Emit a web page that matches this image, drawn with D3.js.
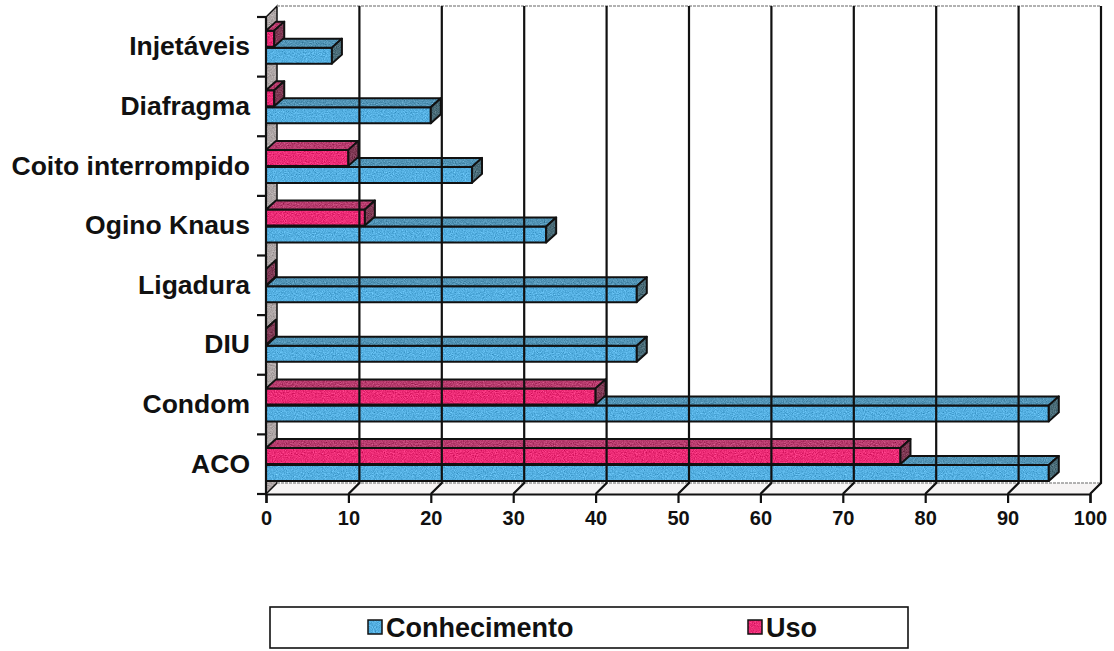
<!DOCTYPE html>
<html>
<head>
<meta charset="utf-8">
<script src="https://cdn.jsdelivr.net/npm/d3@7"></script>
<style>
  body { margin: 0; background: #fff; }
  text { font-family: Arial, "Liberation Sans", sans-serif; font-weight: bold; fill: #111; }
</style>
</head>
<body>
<svg id="chart" width="1114" height="651"></svg>
<script>
// categories top to bottom
var categories = ["Injetáveis", "Diafragma", "Coito interrompido", "Ogino Knaus", "Ligadura", "DIU", "Condom", "ACO"];
var conhecimento = [8, 20, 25, 34, 45, 45, 95, 95];
var uso = [1, 1, 10, 12, 0, 0, 40, 77];
var xTicks = [0, 10, 20, 30, 40, 50, 60, 70, 80, 90, 100];
var seriesNames = ["Conhecimento", "Uso"];

var svg = d3.select("#chart");
var DX = 11, DY = -11;     // wall depth
var BX = 10, BY = -9;      // bar depth

var x = d3.scaleLinear().domain([0, 100]).range([266, 1090]);
var y = d3.scaleBand().domain(categories).range([17, 494]).paddingInner(0).paddingOuter(0);
var yBottom = 494, yTop = 17;

// speckle texture filter
var defs = svg.append("defs");
var f = defs.append("filter").attr("id", "speckle").attr("x", 0).attr("y", 0).attr("width", "100%").attr("height", "100%")
  .attr("color-interpolation-filters", "sRGB");
f.append("feTurbulence").attr("type", "fractalNoise").attr("baseFrequency", 0.9).attr("numOctaves", 2).attr("seed", 4).attr("result", "noise");
f.append("feColorMatrix").attr("in", "noise").attr("type", "matrix")
  .attr("values", "0.33 0.33 0.33 0 0  0.33 0.33 0.33 0 0  0.33 0.33 0.33 0 0  0 0 0 0 1").attr("result", "gray");
f.append("feComposite").attr("in", "SourceGraphic").attr("in2", "gray").attr("operator", "arithmetic")
  .attr("k1", 0).attr("k2", 1).attr("k3", 0.6).attr("k4", -0.3).attr("result", "mix");
f.append("feComposite").attr("in", "mix").attr("in2", "SourceGraphic").attr("operator", "in");

var colors = {
  blue: { front: "#55b0e2", top: "#5294b6", side: "#4a6c78" },
  pink: { front: "#ec2c76", top: "#b83c6e", side: "#803a55" }
};

function poly(pts) { return "M" + pts.map(function(p) { return p[0] + "," + p[1]; }).join("L") + "Z"; }

// left wall + floor
var wall = svg.append("g");
wall.append("path").attr("d", poly([[x(0), yBottom], [x(0) + DX, yBottom + DY], [x(100) + DX, yBottom + DY], [x(100), yBottom]]))
  .attr("fill", "#f6f4f4");
wall.append("path").attr("d", poly([[x(0), yBottom], [x(0), yTop], [x(0) + DX, yTop + DY], [x(0) + DX, yBottom + DY]]))
  .attr("fill", "#aea6a6").attr("filter", "url(#speckle)");
wall.append("path").attr("d", poly([[x(0), yBottom], [x(0), yTop], [x(0) + DX, yTop + DY], [x(0) + DX, yBottom + DY]]))
  .attr("fill", "none").attr("stroke", "#111").attr("stroke-width", 1.5);
// back wall top and floor back edge
wall.append("line").attr("x1", x(0) + DX).attr("x2", x(100) + DX).attr("y1", yTop + DY).attr("y2", yTop + DY)
  .attr("stroke", "#999").attr("stroke-width", 1.5).attr("stroke-dasharray", "3,1");
wall.append("line").attr("x1", x(0) + DX).attr("x2", x(100) + DX).attr("y1", yBottom + DY).attr("y2", yBottom + DY)
  .attr("stroke", "#999").attr("stroke-width", 1.5).attr("stroke-dasharray", "3,1");

// bars
var bars = svg.append("g");
categories.forEach(function(c, i) {
  var yb = y(c), h = y.bandwidth();
  var specs = [
    { v: conhecimento[i], y0: yb + h - 29, y1: yb + h - 13, col: colors.blue },
    { v: uso[i], y0: yb + h - 46, y1: yb + h - 30, col: colors.pink }
  ];
  specs.forEach(function(s) {
    var x0 = x(0), x1 = x(s.v);
    var faces = [
      { d: poly([[x0, s.y0], [x1, s.y0], [x1, s.y1], [x0, s.y1]]), fill: s.col.front },
      { d: poly([[x0, s.y0], [x0 + BX, s.y0 + BY], [x1 + BX, s.y0 + BY], [x1, s.y0]]), fill: s.col.top },
      { d: poly([[x1, s.y0], [x1 + BX, s.y0 + BY], [x1 + BX, s.y1 + BY], [x1, s.y1]]), fill: s.col.side }
    ];
    faces.forEach(function(fc) {
      bars.append("path").attr("d", fc.d).attr("fill", fc.fill).attr("filter", "url(#speckle)");
      bars.append("path").attr("d", fc.d).attr("fill", "none").attr("stroke", "#111").attr("stroke-width", 2).attr("stroke-linejoin", "round");
    });
  });
});

// gridlines (drawn over bars as in the original)
var grid = svg.append("g").attr("stroke", "#111").attr("stroke-width", 2.2).attr("fill", "none");
xTicks.forEach(function(v) {
  if (v === 0) return;
  grid.append("path").attr("d", "M" + x(v) + "," + yBottom + "L" + (x(v) + DX) + "," + (yBottom + DY) + "L" + (x(v) + DX) + "," + (yTop + DY));
});

// front axis lines
svg.append("line").attr("x1", x(0)).attr("x2", x(0)).attr("y1", yTop).attr("y2", yBottom).attr("stroke", "#111").attr("stroke-width", 2.2);

var xAxis = d3.axisBottom(x).tickValues(xTicks).tickSize(9).tickPadding(8).tickFormat(d3.format("d"));
var gx = svg.append("g").attr("transform", "translate(0," + yBottom + ")").call(xAxis);
gx.select(".domain").attr("stroke", "#111").attr("stroke-width", 2.2);
gx.selectAll(".tick line").attr("stroke", "#111").attr("stroke-width", 2.2);
gx.selectAll(".tick text").style("font-size", "20px").style("font-family", "Arial, 'Liberation Sans', sans-serif").style("font-weight", "bold").attr("fill", "#111");

// category tick marks at band boundaries
d3.range(categories.length + 1).forEach(function(k) {
  var yy = yTop + k * y.step();
  svg.append("line").attr("x1", x(0) - 9).attr("x2", x(0)).attr("y1", yy).attr("y2", yy).attr("stroke", "#111").attr("stroke-width", 2.2);
});

var yAxis = d3.axisLeft(y).tickSize(0).tickPadding(16);
var gy = svg.append("g").attr("transform", "translate(" + x(0) + ",0)").call(yAxis);
gy.select(".domain").remove();
gy.selectAll(".tick text").style("font-size", "26.5px").style("font-family", "Arial, 'Liberation Sans', sans-serif").style("font-weight", "bold").attr("fill", "#111");

// legend
var legend = svg.append("g");
legend.append("rect").attr("x", 270).attr("y", 607).attr("width", 638).attr("height", 41).attr("fill", "#fff").attr("stroke", "#111").attr("stroke-width", 1.6);
var legX = [368, 748];
var legCols = [colors.blue.front, colors.pink.front];
seriesNames.forEach(function(n, i) {
  legend.append("rect").attr("x", legX[i]).attr("y", 620).attr("width", 14).attr("height", 14)
    .attr("fill", legCols[i]).attr("filter", "url(#speckle)");
  legend.append("rect").attr("x", legX[i]).attr("y", 620).attr("width", 14).attr("height", 14)
    .attr("fill", "none").attr("stroke", "#111").attr("stroke-width", 1.5);
  legend.append("text").attr("x", legX[i] + 18).attr("y", 637).style("font-size", "27px").text(n);
});
</script>
</body>
</html>
